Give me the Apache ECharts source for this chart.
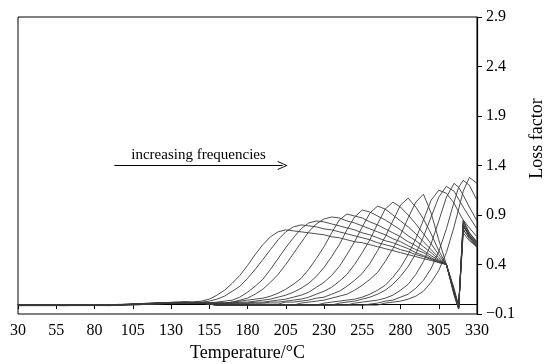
<!DOCTYPE html>
<html>
<head>
<meta charset="utf-8">
<script src="https://cdn.jsdelivr.net/npm/echarts@6/dist/echarts.min.js"></script>
<style>
  html, body { margin: 0; padding: 0; background: #fff; }
  #face { width: 546px; height: 364px; }
</style>
</head>
<body>
<div id="face"></div>
<script>
// temperature grid (°C) shared by every curve
var temps = [30, 60, 90, 110, 125, 140, 150, 155, 160, 165, 170, 175, 180, 185, 190, 195,
  200, 205, 210, 215, 220, 225, 230, 235, 240, 245, 250, 255, 260, 265, 270, 275, 280, 285, 290, 295,
  300, 305, 310, 315, 318, 321, 325, 330];

// loss factor, one array per frequency (low -> high)
var loss0 = [-0.01,-0.01,-0.005,0,0.01,0.015, 0.03,0.05,0.09,0.14,0.21,0.29,0.39,0.50,0.60,0.68,
  0.73,0.75,0.74,0.73,0.72,0.71,0.70,0.68,0.67,0.65, 0.63,0.62,0.60,0.58,0.56,0.54,0.52,0.50,0.48,0.46,
  0.44,0.42,0.40,0.12, -0.04,0.80,0.68,0.58];
var loss1 = [-0.015,-0.01,-0.01,0.005,0.015,0.02, 0.02,0.03,0.05,0.08,0.13,0.18,0.26,0.35,0.45,0.55,
  0.65,0.73,0.78,0.80,0.79,0.78,0.76,0.75,0.73,0.71, 0.69,0.67,0.65,0.62,0.60,0.58,0.55,0.53,0.50,0.48,
  0.45,0.42,0.40,0.14, -0.03,0.76,0.66,0.57];
var loss2 = [-0.005,-0.005,-0.01,-0.005,0.005,0.01, 0.01,0.01,0.02,0.03,0.04,0.07,0.12,0.18,0.25,0.35,
  0.46,0.57,0.67,0.76,0.82,0.84,0.83,0.81,0.79,0.77, 0.75,0.72,0.70,0.67,0.64,0.62,0.59,0.56,0.52,0.49,
  0.46,0.43,0.40,0.10, -0.05,0.84,0.70,0.60];
var loss3 = [-0.01,-0.015,-0.015,0,0.01,0.02, 0.01,0.01,0.01,0.01,0.02,0.04,0.06,0.10,0.15,0.22,
  0.30,0.40,0.51,0.62,0.73,0.81,0.86,0.88,0.87,0.84, 0.82,0.79,0.76,0.73,0.70,0.66,0.63,0.59,0.55,0.52,
  0.47,0.43,0.40,0.16, -0.02,0.72,0.64,0.58];
var loss4 = [-0.01,-0.01,-0.01,0,0.01,0.015, 0.01,0.01,0.01,0.01,0.02,0.03,0.04,0.05,0.06,0.08,
  0.11,0.15,0.20,0.26,0.35,0.46,0.58,0.72,0.85,0.91, 0.89,0.87,0.83,0.80,0.76,0.72,0.68,0.63,0.59,0.54,
  0.49,0.44,0.40,0.11, -0.04,0.80,0.68,0.60];
var loss5 = [-0.015,-0.015,-0.01,0.005,0.015,0.02, 0.01,0.01,0.01,0.01,0.01,0.02,0.02,0.03,0.04,0.05,
  0.07,0.09,0.12,0.16,0.21,0.28,0.37,0.48,0.60,0.75, 0.88,0.95,0.93,0.89,0.85,0.80,0.75,0.69,0.64,0.58,
  0.52,0.45,0.40,0.13, -0.03,0.78,0.70,0.62];
var loss6 = [-0.01,-0.01,-0.01,0,0.01,0.015, 0.01,0.01,0.01,0.01,0.01,0.01,0.01,0.02,0.02,0.03,
  0.04,0.05,0.07,0.09,0.12,0.17,0.22,0.29,0.38,0.50, 0.63,0.78,0.92,0.99,0.96,0.90,0.84,0.78,0.71,0.63,
  0.55,0.47,0.40,0.09, -0.05,0.82,0.72,0.63];
var loss7 = [-0.005,-0.01,-0.015,-0.005,0.005,0.01, 0.01,0.01,0.01,0.01,0.01,0.01,0.01,0.01,0.01,0.02,
  0.02,0.03,0.04,0.05,0.07,0.10,0.13,0.17,0.23,0.30, 0.40,0.52,0.65,0.81,0.96,1.03,0.98,0.90,0.81,0.71,
  0.61,0.50,0.40,0.12, -0.04,0.75,0.67,0.59];
var loss8 = [-0.01,-0.01,-0.01,0,0.01,0.015, 0.01,0.01,0,0,0,0,0,0,0,0,
  0,0.02,0.02,0.03,0.04,0.06,0.07,0.10,0.13,0.18, 0.24,0.31,0.41,0.54,0.68,0.84,1.00,1.07,0.98,0.86,
  0.71,0.54,0.40,0.14, -0.02,0.80,0.69,0.61];
var loss9 = [-0.015,-0.01,-0.005,0,0.015,0.02, 0.01,0,-0.01,-0.01,-0.01,-0.01,-0.01,-0.01,-0.01,-0.01,
  -0.01,-0.01,-0.01,0.01,0.02,0.03,0.04,0.06,0.08,0.10, 0.14,0.19,0.25,0.32,0.43,0.56,0.70,0.87,1.03,1.11,
  0.92,0.65,0.40,0.12, -0.04,0.85,0.72,0.62];
var loss10 = [-0.01,-0.01,-0.01,0,0.01,0.015, 0.01,0,-0.01,-0.01,-0.01,-0.01,-0.01,-0.01,-0.01,-0.01,
  -0.01,-0.01,-0.01,-0.01,-0.01,-0.01,0.01,0.02,0.03,0.04, 0.05,0.07,0.10,0.14,0.19,0.27,0.37,0.50,0.66,0.85,
  1.05,1.15,1.12,1.02, 0.93,0.85,0.77,0.68];
var loss11 = [-0.005,-0.005,-0.01,-0.005,0.005,0.01, 0.01,0,-0.01,-0.01,-0.01,-0.01,-0.01,-0.01,-0.01,-0.01,
  -0.01,-0.01,-0.01,-0.01,-0.01,-0.01,-0.01,-0.01,0.01,0.02, 0.03,0.05,0.07,0.10,0.14,0.20,0.28,0.38,0.51,0.68,
  0.88,1.08,1.19,1.14, 1.06,0.98,0.88,0.76];
var loss12 = [-0.01,-0.01,-0.01,0,0.01,0.015, 0.01,0,-0.01,-0.01,-0.01,-0.01,-0.01,-0.01,-0.01,-0.01,
  -0.01,-0.01,-0.01,-0.01,-0.01,-0.01,-0.01,-0.01,-0.01,-0.01, 0.01,0.02,0.03,0.04,0.06,0.09,0.14,0.20,0.30,0.43,
  0.61,0.84,1.08,1.22, 1.18,1.10,0.98,0.84];
var loss13 = [-0.015,-0.015,-0.01,0,0.015,0.02, 0.01,0,-0.01,-0.01,-0.01,-0.01,-0.01,-0.01,-0.01,-0.01,
  -0.01,-0.01,-0.01,-0.01,-0.01,-0.01,-0.01,-0.01,-0.01,-0.01, -0.01,-0.01,0,0.01,0.03,0.04,0.07,0.10,0.16,0.24,
  0.36,0.53,0.76,1.03, 1.18,1.25,1.20,1.05];
var loss14 = [-0.01,-0.01,-0.01,0,0.01,0.015, 0.01,0,-0.01,-0.01,-0.01,-0.01,-0.01,-0.01,-0.01,-0.01,
  -0.01,-0.01,-0.01,-0.01,-0.01,-0.01,-0.01,-0.01,-0.01,-0.01, -0.01,-0.01,-0.01,-0.01,0.01,0.02,0.03,0.05,0.08,0.13,
  0.22,0.34,0.52,0.78, 0.96,1.14,1.28,1.22];

var curves = [loss0, loss1, loss2, loss3, loss4, loss5, loss6, loss7, loss8, loss9,
  loss10, loss11, loss12, loss13, loss14];

var yTicks = [-0.1, 0.4, 0.9, 1.4, 1.9, 2.4, 2.9];

var serif = 'Liberation Serif';

var series = curves.map(function (vals, k) {
  var s = {
    type: 'line',
    data: temps.map(function (t, i) { return [t, vals[i]]; }),
    showSymbol: false,
    silent: true,
    lineStyle: { color: '#3a3a3a', width: 0.9 }
  };
  if (k === 0) {
    // "increasing frequencies" arrow
    s.markLine = {
      silent: true,
      symbol: ['none', 'path://M0,10 L5,0 L10,10 L9,10 L5,2 L1,10 Z'],
      symbolSize: [9, 10],
      lineStyle: { color: '#000', width: 1, type: 'solid' },
      label: {
        show: true,
        position: 'middle',
        formatter: 'increasing frequencies',
        color: '#000',
        fontFamily: serif,
        fontSize: 15,
        distance: 3
      },
      data: [[{ coord: [93, 1.4] }, { coord: [203, 1.4] }]]
    };
  }
  return s;
});

var myChart = echarts.init(document.getElementById('face'));
var option = {
  animation: false,
  backgroundColor: '#fff',
  grid: {
    left: 18,
    right: 69,
    top: 17,
    bottom: 50,
    outerBoundsMode: 'none',
    show: true,
    borderColor: '#000',
    borderWidth: 1
  },
  xAxis: {
    type: 'value',
    min: 30,
    max: 330,
    interval: 25,
    name: 'Temperature/°C',
    nameLocation: 'middle',
    nameGap: 28,
    nameTextStyle: { color: '#000', fontFamily: serif, fontSize: 18 },
    axisLine: { lineStyle: { color: '#000', width: 1.2 } },
    axisTick: { length: 5, lineStyle: { color: '#000' } },
    axisLabel: { color: '#000', fontFamily: serif, fontSize: 16, margin: 9 },
    splitLine: { show: false }
  },
  yAxis: {
    type: 'value',
    position: 'right',
    min: yTicks[0],
    max: yTicks[yTicks.length - 1],
    interval: 0.5,
    name: 'Loss factor',
    nameLocation: 'middle',
    nameRotate: 90,
    nameGap: 51,
    nameTextStyle: { color: '#000', fontFamily: serif, fontSize: 18, padding: [0, 0, 0, 54] },
    axisLine: { show: true, lineStyle: { color: '#000', width: 1.2 } },
    axisTick: { show: true, length: 5, lineStyle: { color: '#000' } },
    axisLabel: {
      color: '#000', fontFamily: serif, fontSize: 16, margin: 9,
      formatter: function (v) {
        return (v < 0 ? '\u2212' : '') + Math.abs(v).toFixed(1);
      }
    },
    splitLine: { show: false }
  },
  series: series
};
myChart.setOption(option);
</script>
</body>
</html>
